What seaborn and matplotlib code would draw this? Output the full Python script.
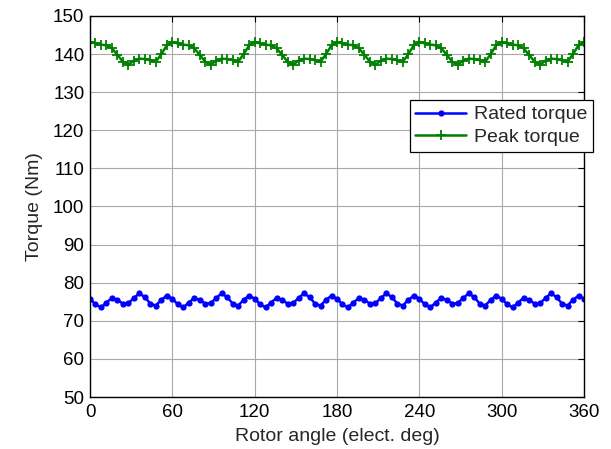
import matplotlib
matplotlib.use("Agg")
import matplotlib.pyplot as plt
import seaborn as sns
import pandas as pd

# Rotor angle (electrical degrees), sampled every 4 degrees
angle = list(range(0, 361, 4))

rated_torque = [
    75.8, 74.3, 73.5, 74.8, 76.0, 75.5, 74.5, 74.6, 76.0, 77.2, 76.2, 74.5, 74.0, 75.5, 76.6,
    75.8, 74.3, 73.5, 74.8, 76.0, 75.5, 74.5, 74.6, 76.0, 77.2, 76.2, 74.5, 74.0, 75.5, 76.6,
    75.8, 74.3, 73.5, 74.8, 76.0, 75.5, 74.5, 74.6, 76.0, 77.2, 76.2, 74.5, 74.0, 75.5, 76.6,
    75.8, 74.3, 73.5, 74.8, 76.0, 75.5, 74.5, 74.6, 76.0, 77.2, 76.2, 74.5, 74.0, 75.5, 76.6,
    75.8, 74.3, 73.5, 74.8, 76.0, 75.5, 74.5, 74.6, 76.0, 77.2, 76.2, 74.5, 74.0, 75.5, 76.6,
    75.8, 74.3, 73.5, 74.8, 76.0, 75.5, 74.5, 74.6, 76.0, 77.2, 76.2, 74.5, 74.0, 75.5, 76.6,
    75.8,
]

peak_torque = [
    143.2, 142.8, 142.5, 142.3, 141.5, 139.8, 138.0, 137.2, 138.3, 138.8, 138.7, 138.4, 138.0, 140.0, 142.3,
    143.2, 142.8, 142.5, 142.3, 141.5, 139.8, 138.0, 137.2, 138.3, 138.8, 138.7, 138.4, 138.0, 140.0, 142.3,
    143.2, 142.8, 142.5, 142.3, 141.5, 139.8, 138.0, 137.2, 138.3, 138.8, 138.7, 138.4, 138.0, 140.0, 142.3,
    143.2, 142.8, 142.5, 142.3, 141.5, 139.8, 138.0, 137.2, 138.3, 138.8, 138.7, 138.4, 138.0, 140.0, 142.3,
    143.2, 142.8, 142.5, 142.3, 141.5, 139.8, 138.0, 137.2, 138.3, 138.8, 138.7, 138.4, 138.0, 140.0, 142.3,
    143.2, 142.8, 142.5, 142.3, 141.5, 139.8, 138.0, 137.2, 138.3, 138.8, 138.7, 138.4, 138.0, 140.0, 142.3,
    143.2,
]

series_labels = ["Rated torque", "Peak torque"]
x_ticks = [0, 60, 120, 180, 240, 300, 360]
y_ticks = list(range(50, 151, 10))

sns.set_style("white")
plt.rcParams["font.family"] = ["Liberation Sans", "DejaVu Sans"]

fig = plt.figure(figsize=(6.11, 4.49), dpi=100)
ax = fig.add_axes([90 / 611, 1 - 397 / 449, 494 / 611, 381 / 449])

df_r = pd.DataFrame({"angle": angle, "torque": rated_torque})
df_p = pd.DataFrame({"angle": angle, "torque": peak_torque})

sns.lineplot(data=df_r, x="angle", y="torque", ax=ax, color="#0000ff",
             marker="o", markersize=4.5, markeredgewidth=0,
             markerfacecolor="#0000ff", markeredgecolor="#0000ff", lw=1.8,
             label=series_labels[0])
sns.lineplot(data=df_p, x="angle", y="torque", ax=ax, color="#008000",
             marker="+", markersize=7.5, markeredgewidth=1.3,
             markeredgecolor="#008000", lw=1.8,
             label=series_labels[1])

ax.set_xlim(0, 360)
ax.set_ylim(50, 150)
ax.set_xticks(x_ticks)
ax.set_yticks(y_ticks)
ax.grid(True, color="#a8a8a8", lw=0.8)
ax.set_axisbelow(True)
for s in ax.spines.values():
    s.set_color("black")
    s.set_linewidth(1.0)
ax.tick_params(direction="in", top=True, right=True, length=4, width=0.8,
               labelsize=13.5, colors="black")
ax.tick_params(axis="x", pad=5)
ax.tick_params(axis="y", pad=4)
ax.set_xlabel("Rotor angle (elect. deg)", fontsize=14, labelpad=5)
ax.set_ylabel("Torque (Nm)", fontsize=14, labelpad=7)

leg = ax.legend(loc="upper right", bbox_to_anchor=(593 / 611, 1 - 100 / 449),
                bbox_transform=fig.transFigure, borderaxespad=0,
                fancybox=False, framealpha=1, edgecolor="black",
                fontsize=14, handlelength=2.6, handletextpad=0.4,
                borderpad=0.3, labelspacing=0.25)
leg.get_frame().set_linewidth(0.9)

fig.savefig("out.png", dpi=100)
